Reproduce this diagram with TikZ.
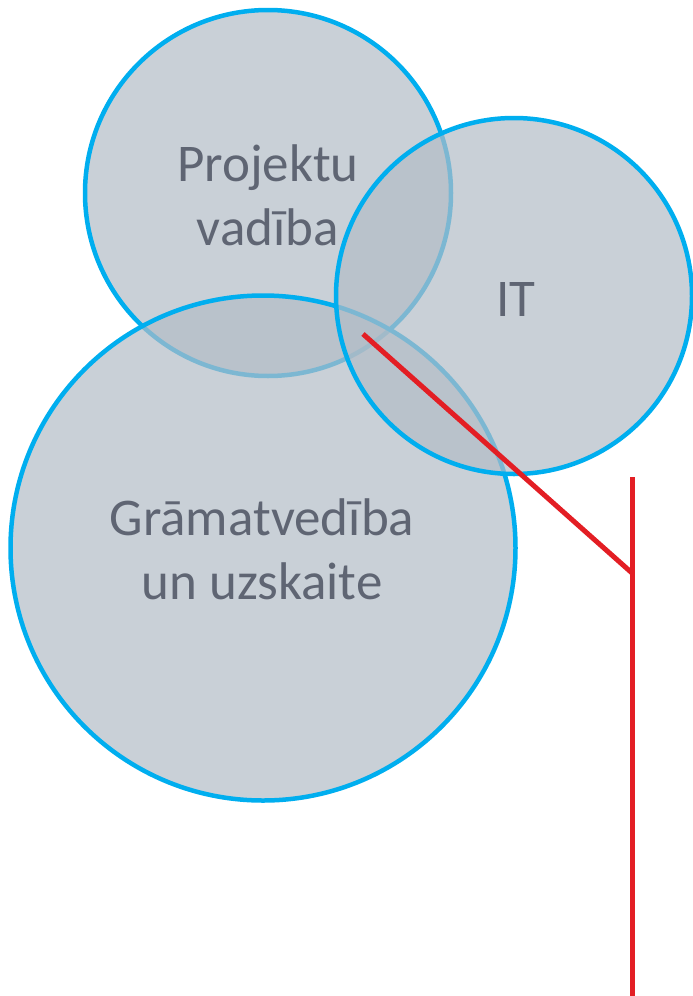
\documentclass[tikz,border=0pt]{standalone}
\usepackage{fontspec}
\setmainfont{Carlito}
\usepackage{xcolor}
\definecolor{ringblue}{RGB}{0,174,239}
\definecolor{discgrey}{RGB}{178,188,198}
\definecolor{labelgrey}{RGB}{95,101,115}
\definecolor{markred}{RGB}{227,30,36}

\begin{document}
\begin{tikzpicture}[x=1pt,y=-1pt,
  disc/.style={circle,draw=ringblue,line width=4.5pt,fill=discgrey,fill opacity=0.7,inner sep=0pt},
  lbl/.style={text=labelgrey,align=center,font=\fontsize{53}{64}\selectfont}]
  \useasboundingbox (0,0) rectangle (693,996);
  % the three circles
  \node[disc,minimum size=366pt] (pv) at (268,193) {};
  \node[disc,minimum size=505pt] (gr) at (263,548) {};
  \node[disc,minimum size=356pt] (it) at (514,296) {};
  % labels
  \node[lbl] (pvtext) at (268,195) {Projektu\\vadība};
  \node[lbl] (ittext) at (516,299) {IT};
  \node[lbl] (grtext) at (262,549) {Grāmatvedība\\un uzskaite};
  % red marker
  \coordinate (tip) at (363,334);
  \coordinate (joint) at (632,573);
  \coordinate (top) at (632,477);
  \coordinate (bottom) at (632,996);
  \draw[markred,line width=5pt] (tip) -- (joint);
  \draw[markred,line width=5pt] (top) -- (bottom);
\end{tikzpicture}
\end{document}
